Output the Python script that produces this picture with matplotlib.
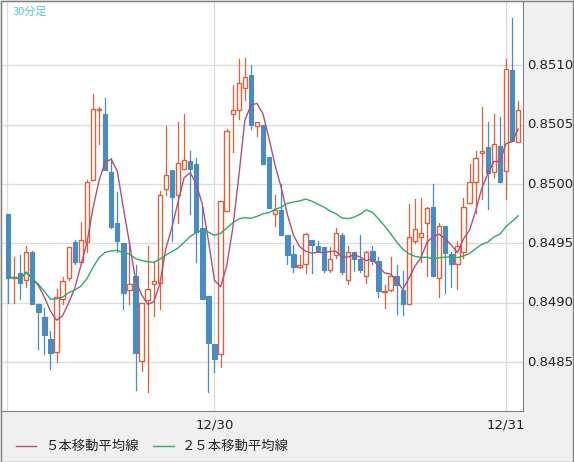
import matplotlib
matplotlib.use("Agg")
import matplotlib.pyplot as plt
import numpy as np
import pandas as pd

plt.rcParams['font.family'] = ['Noto Sans CJK JP', 'DejaVu Sans']

opens = [0.84975,0.84921,0.84925,0.84919,0.84943,0.84899,0.84888,0.84870,0.84859,0.84903,
         0.84921,0.84951,0.84934,0.84951,0.85003,0.85062,0.85059,0.85010,0.84967,0.84950,
         0.84911,0.84923,0.84851,0.84902,0.84916,0.84917,0.84996,0.85012,0.84991,0.85013,
         0.85019,0.85017,0.84963,0.84906,0.84865,0.84857,0.84977,0.85059,0.85062,0.85081,
         0.85092,0.85049,0.85050,0.85023,0.84975,0.84978,0.84957,0.84941,0.84930,0.84933,
         0.84953,0.84948,0.84947,0.84928,0.84940,0.84957,0.84919,0.84943,0.84937,0.84923,
         0.84944,0.84935,0.84909,0.84911,0.84923,0.84911,0.84899,0.84952,0.84955,0.84967,
         0.84981,0.84921,0.84965,0.84941,0.84933,0.84943,0.84984,0.85002,0.85026,0.85031,
         0.85010,0.85032,0.85011,0.85096,0.85035]
highs = [0.84975,0.84939,0.84940,0.84948,0.84944,0.84899,0.84896,0.84876,0.84912,0.84922,
         0.84947,0.84953,0.84968,0.85003,0.85076,0.85065,0.85072,0.85022,0.84993,0.84950,
         0.84951,0.84932,0.84900,0.84948,0.84934,0.84994,0.85049,0.85012,0.85052,0.85059,
         0.85028,0.85022,0.84981,0.84906,0.84865,0.84986,0.85046,0.85083,0.85105,0.85106,
         0.85100,0.85052,0.85050,0.85023,0.84991,0.85000,0.84957,0.84949,0.84940,0.84959,
         0.84953,0.84952,0.84947,0.84947,0.84963,0.84959,0.84948,0.84943,0.84957,0.84944,
         0.84948,0.84939,0.84915,0.84939,0.84932,0.84927,0.84983,0.84987,0.84988,0.84981,
         0.85000,0.84967,0.84965,0.84943,0.84952,0.84988,0.85017,0.85028,0.85065,0.85052,
         0.85059,0.85056,0.85105,0.85140,0.85070]
lows = [0.84900,0.84900,0.84903,0.84913,0.84899,0.84861,0.84857,0.84844,0.84850,0.84899,
        0.84919,0.84933,0.84934,0.84943,0.85003,0.85034,0.85012,0.84963,0.84943,0.84895,
        0.84899,0.84827,0.84843,0.84825,0.84889,0.84895,0.84991,0.84952,0.84967,0.85013,
        0.84975,0.84934,0.84903,0.84825,0.84842,0.84846,0.84977,0.85027,0.85055,0.85071,
        0.85046,0.85040,0.85017,0.84980,0.84965,0.84957,0.84933,0.84926,0.84929,0.84925,
        0.84925,0.84943,0.84926,0.84926,0.84938,0.84924,0.84916,0.84927,0.84926,0.84917,
        0.84933,0.84905,0.84896,0.84910,0.84891,0.84890,0.84899,0.84950,0.84934,0.84923,
        0.84923,0.84905,0.84908,0.84913,0.84912,0.84938,0.84984,0.84976,0.84987,0.84979,
        0.85006,0.85002,0.84987,0.85036,0.85035]
closes = [0.84921,0.84922,0.84917,0.84943,0.84899,0.84892,0.84873,0.84858,0.84905,0.84918,
          0.84947,0.84934,0.84953,0.85002,0.85063,0.85063,0.85012,0.84964,0.84952,0.84908,
          0.84916,0.84858,0.84900,0.84912,0.84918,0.84991,0.85008,0.84989,0.85018,0.85020,
          0.85013,0.84960,0.84903,0.84866,0.84853,0.84986,0.85045,0.85062,0.85085,0.85090,
          0.85050,0.85052,0.85017,0.84980,0.84978,0.84957,0.84940,0.84930,0.84932,0.84958,
          0.84949,0.84944,0.84928,0.84937,0.84959,0.84926,0.84943,0.84937,0.84928,0.84943,
          0.84935,0.84910,0.84910,0.84923,0.84915,0.84899,0.84955,0.84962,0.84959,0.84980,
          0.84923,0.84965,0.84942,0.84933,0.84948,0.84981,0.85002,0.85022,0.85028,0.85009,
          0.85034,0.85002,0.85097,0.85036,0.85062]
date_labels = ['12/30', '12/31']
date_pos = [34, 82]
yticks = [0.8485, 0.8490, 0.8495, 0.8500, 0.8505, 0.8510]

o, h, l, c = map(np.array, (opens, highs, lows, closes))
x = np.arange(len(o))
ma5 = pd.Series(c).rolling(5, min_periods=1).mean()
ma25 = pd.Series(c).rolling(25, min_periods=1).mean()

W, H = 574, 462
fig = plt.figure(figsize=(W/100, H/100), dpi=100, facecolor='#f0f0f0')
ax = fig.add_axes([1/W, 1 - 411/H, 522/W, 410/H])
ax.set_facecolor('white')
ax.set_xlim(-1.15, 84.8)
ax.set_ylim(0.84809, 0.85154)

for yv in yticks:
    ax.axhline(yv, color='#dddddd', lw=1, zorder=0)
ax.axvline(-0.16, color='#dddddd', lw=1, zorder=0)
for p in date_pos:
    ax.axvline(p, color='#dddddd', lw=1, zorder=0)

blue, red = '#4a8bc2', '#e0603a'
up = c >= o
for i in x:
    col = red if up[i] else blue
    ax.plot([i, i], [l[i], h[i]], color=col, lw=0.9, zorder=2)
bw = 0.72
ax.bar(x[~up], (o - c)[~up], bottom=c[~up], width=bw, color=blue, edgecolor=blue, lw=0.8, zorder=3)
ax.bar(x[up], np.maximum((c - o)[up], 0.000008), bottom=o[up], width=bw, color='white', edgecolor=red, lw=1, zorder=3)

ax.plot(x, ma5, color='#b0507a', lw=1, zorder=4)
ax.plot(x, ma25, color='#2eaa6a', lw=1, zorder=4)

ax.set_xticks([]); ax.set_yticks([])
for s in ax.spines.values():
    s.set_color('#808080')

ax.text(0.022, 0.985, '30分足', transform=ax.transAxes, color='#4fc3f7', fontsize=8, va='top', ha='left')

for yv in yticks:
    yp = 411 - (yv - 0.84809) / (0.85154 - 0.84809) * 410
    fig.text(527/W, 1 - yp/H, f'{yv:.4f}', fontsize=9.5, va='center', ha='left', color='#222222', family='DejaVu Sans')
for lab, p in zip(date_labels, date_pos):
    xp = 1 + (p + 1.15) / (84.8 + 1.15) * 522
    fig.text(xp/W, 1 - 425/H, lab, fontsize=9.5, va='center', ha='center', color='#222222', family='DejaVu Sans')

fig.add_artist(plt.Line2D([16/W, 36/W], [1 - 446/H]*2, color='#b0507a', lw=1))
fig.text(45/W, 1 - 446/H, '５本移動平均線', fontsize=9.6, va='center', ha='left', color='#222222')
fig.add_artist(plt.Line2D([153/W, 174/W], [1 - 446/H]*2, color='#2eaa6a', lw=1))
fig.text(182/W, 1 - 446/H, '２５本移動平均線', fontsize=9.6, va='center', ha='left', color='#222222')
fig.add_artist(plt.Rectangle((0.5/W, 0.5/H), 1 - 1.5/W, 1 - 1.5/H, fill=False, edgecolor='#808080', lw=1, transform=fig.transFigure))

fig.savefig('out.png', dpi=100, facecolor=fig.get_facecolor())
